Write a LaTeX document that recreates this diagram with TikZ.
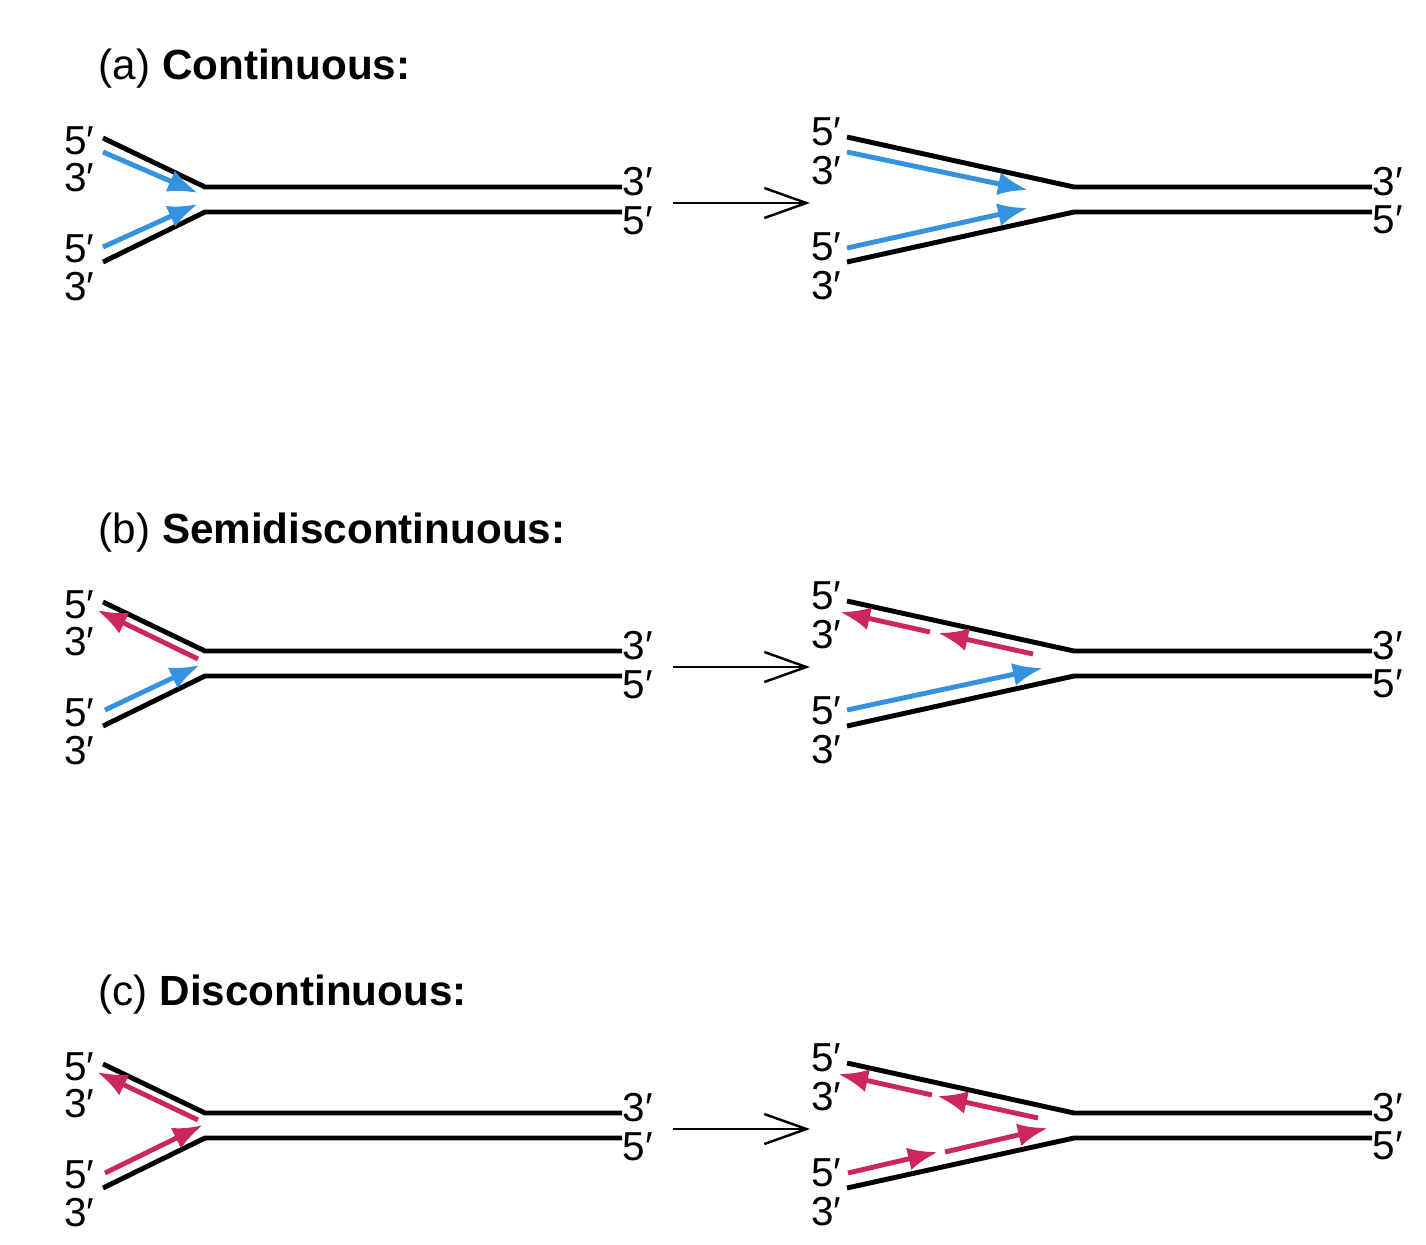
\documentclass[tikz,border=0pt]{standalone}
\usepackage{fontspec}
\setmainfont{Liberation Sans}
\usetikzlibrary{arrows.meta}
\definecolor{leadblue}{RGB}{52,146,222}
\definecolor{lagred}{RGB}{203,38,96}

\begin{document}
\begin{tikzpicture}[x=0.01cm, y=-0.01cm,
  strand/.style={line width=1.4pt},
  lead/.style={leadblue, line width=1.4pt, -{Latex[length=3mm,width=2.3mm]}},
  lag/.style={lagred, line width=1.4pt, -{Latex[length=3mm,width=2.3mm]}},
  stepto/.style={line width=0.7pt, -{Straight Barb[length=4.2mm,width=3mm]}},
  title/.style={anchor=base west, inner sep=0pt, font=\fontsize{12}{14}\selectfont},
  lbl/.style={inner sep=0pt, font=\fontsize{11.5}{13}\selectfont}]
\useasboundingbox (0,0) rectangle (1426,1244);

% the same fork, duplex and step arrow in each panel
\foreach \p/\dy/\ttl in {a/0/Continuous, b/464/Semidiscontinuous, c/926/Discontinuous}{
  \begin{scope}[shift={(0,\dy)}]
    \node[title] (t\p) at (98,79) {(\p) \textbf{\ttl:}};
    % before
    \coordinate (lu\p) at (103,138); \coordinate (lv\p) at (205,187); \coordinate (le\p) at (622,187);
    \coordinate (ld\p) at (103,262); \coordinate (lw\p) at (205,212); \coordinate (lf\p) at (622,212);
    \draw[strand] (lu\p) -- (lv\p) -- (le\p);
    \draw[strand] (ld\p) -- (lw\p) -- (lf\p);
    \node[lbl, anchor=east] (la\p) at (95,141) {5′};
    \node[lbl, anchor=east] (lb\p) at (95,178) {3′};
    \node[lbl, anchor=east] (lc\p) at (95,249) {5′};
    \node[lbl, anchor=east] (ldd\p) at (95,287) {3′};
    \node[lbl, anchor=west] (le3\p) at (le\p |- 0,182) {3′};
    \node[lbl, anchor=west] (lf5\p) at (lf\p |- 0,221) {5′};
    % step
    \coordinate (sa\p) at (673,203); \coordinate (sb\p) at (810,203);
    \draw[stepto] (sa\p) -- (sb\p);
    % after
    \coordinate (ru\p) at (847,137); \coordinate (rv\p) at (1074,187); \coordinate (re\p) at (1372,187);
    \coordinate (rd\p) at (847,262); \coordinate (rw\p) at (1074,212); \coordinate (rf\p) at (1372,212);
    \draw[strand] (ru\p) -- (rv\p) -- (re\p);
    \draw[strand] (rd\p) -- (rw\p) -- (rf\p);
    \node[lbl, anchor=east] (ra\p) at (842,132) {5′};
    \node[lbl, anchor=east] (rb\p) at (842,171) {3′};
    \node[lbl, anchor=east] (rc\p) at (842,247) {5′};
    \node[lbl, anchor=east] (rdd\p) at (842,286) {3′};
    \node[lbl, anchor=west] (re3\p) at (re\p |- 0,182) {3′};
    \node[lbl, anchor=west] (rf5\p) at (rf\p |- 0,220) {5′};
  \end{scope}
}

% (a) new strands
\draw[lead] (103,152) -- (198,193);
\draw[lead] (103,247) -- (198,204);
\draw[lead] (847,152) -- (1028,190);
\draw[lead] (847,248) -- (1028,208);

% (b)
\begin{scope}[shift={(0,464)}]
\draw[lag] (198,195) -- (97,146);
\draw[lead] (105,246) -- (200,201);
\draw[lag] (1033,190) -- (938,169);
\draw[lag] (930,168) -- (840,148);
\draw[lead] (847,246) -- (1043,204);
\end{scope}

% (c)
\begin{scope}[shift={(0,926)}]
\draw[lag] (198,194) -- (97,146);
\draw[lag] (105,247) -- (203,199);
\draw[lag] (1038,192) -- (937,170);
\draw[lag] (932,169) -- (838,148);
\draw[lag] (848,247) -- (938,226);
\draw[lag] (945,226) -- (1048,202);
\end{scope}
\end{tikzpicture}
\end{document}
